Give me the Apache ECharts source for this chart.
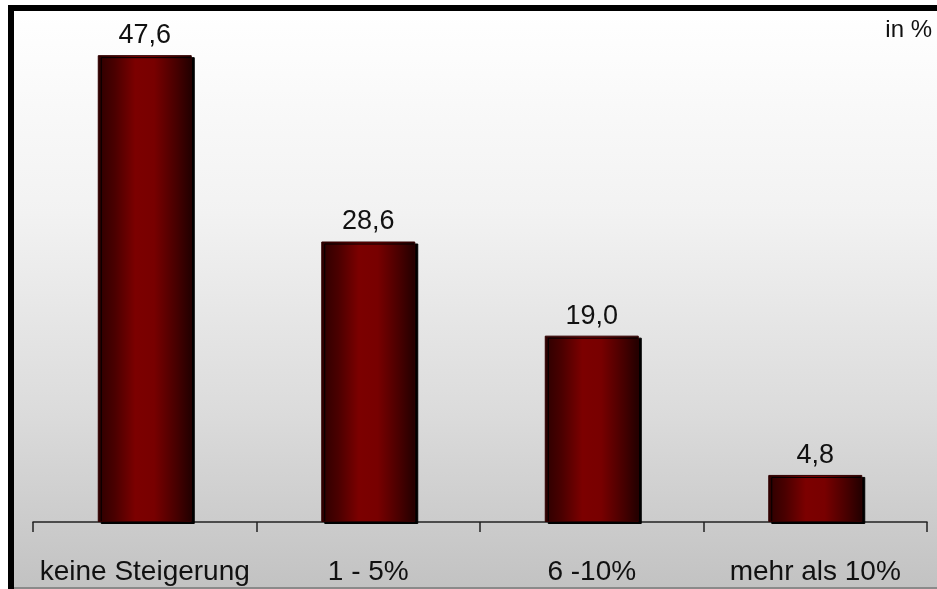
<!DOCTYPE html>
<html>
<head>
<meta charset="utf-8">
<script src="https://cdn.jsdelivr.net/npm/echarts@6/dist/echarts.min.js"></script>
<style>
  html, body { margin: 0; padding: 0; background: #ffffff; }
  #chart { width: 937px; height: 589px; }
</style>
</head>
<body>
<div id="chart"></div>
<script>
// Price increase expectations, share of answers in percent
const categories = ['keine Steigerung', '1 - 5%', '6 -10%', 'mehr als 10%'];
const shares = [47.6, 28.6, 19.0, 4.8];
const unitNote = 'in %';

const chart = echarts.init(document.getElementById('chart'));

const barFill = new echarts.graphic.LinearGradient(0, 0, 1, 0, [
  { offset: 0, color: '#2c0000' },
  { offset: 0.18, color: '#4a0000' },
  { offset: 0.4, color: '#7c0000' },
  { offset: 0.6, color: '#780000' },
  { offset: 0.85, color: '#440000' },
  { offset: 1, color: '#220000' }
]);

chart.setOption({
  animation: false,
  textStyle: { fontFamily: 'Liberation Sans, Arial, sans-serif' },
  graphic: [
    {
      type: 'rect',
      z: -10,
      shape: { x: 14, y: 11, width: 923, height: 578 },
      style: {
        fill: new echarts.graphic.LinearGradient(0, 0, 0, 1, [
          { offset: 0, color: '#ffffff' },
          { offset: 0.35, color: '#f2f2f2' },
          { offset: 0.7, color: '#dbdbdb' },
          { offset: 1, color: '#c2c2c2' }
        ])
      }
    },
    { type: 'rect', z: -5, shape: { x: 8, y: 5, width: 6, height: 584 }, style: { fill: '#000000' } },
    { type: 'rect', z: -5, shape: { x: 8, y: 5, width: 929, height: 6 }, style: { fill: '#000000' } },
    { type: 'rect', z: -5, shape: { x: 14, y: 587, width: 923, height: 2 }, style: { fill: '#8a8a8a' } },
    {
      type: 'text',
      right: 5,
      top: 18,
      style: { text: unitNote, font: '24px Liberation Sans, Arial, sans-serif', fill: '#111111', textAlign: 'right' }
    }
  ],
  grid: { left: 33, right: 10, top: 12, bottom: 67, containLabel: false },
  xAxis: {
    type: 'category',
    data: categories,
    axisLine: { lineStyle: { color: '#222222', width: 1.5 } },
    axisTick: { show: true, length: 10, lineStyle: { color: '#222222', width: 1.5 } },
    axisLabel: { color: '#111111', fontSize: 28, margin: 36, interval: 0 },
    splitLine: { show: false }
  },
  yAxis: {
    type: 'value',
    min: 0,
    max: 52,
    show: false
  },
  series: [{
    type: 'bar',
    data: shares,
    barWidth: 94,
    itemStyle: {
      color: barFill,
      borderColor: '#300000',
      borderWidth: 1,
      shadowColor: '#000000',
      shadowOffsetX: 3,
      shadowOffsetY: 2,
      shadowBlur: 0
    },
    label: {
      show: true,
      position: 'top',
      distance: 6,
      fontSize: 27,
      color: '#111111',
      formatter: p => p.value.toFixed(1).replace('.', ',')
    }
  }]
});
</script>
</body>
</html>
